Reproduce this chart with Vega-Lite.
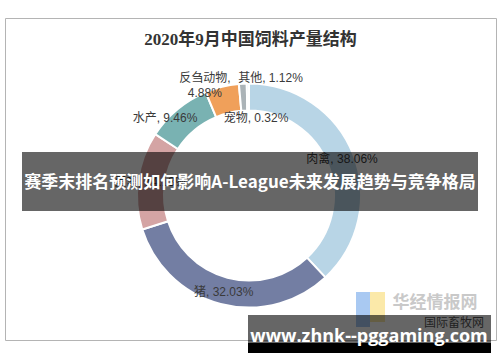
{
  "$schema": "https://vega.github.io/schema/vega-lite/v6.json",
  "width": 500,
  "height": 362,
  "autosize": {"type": "fit", "contains": "padding"},
  "padding": {"left": 5, "top": 18, "right": 4, "bottom": 22},
  "background": "white",
  "config": {"view": {"stroke": "#b4b4b4", "strokeWidth": 1}},
  "datasets": {
    "feed": [
      {"cat": "肉禽", "pct": 38.06},
      {"cat": "猪", "pct": 32.03},
      {"cat": "蛋禽", "pct": 14.13},
      {"cat": "水产", "pct": 9.46},
      {"cat": "反刍动物", "pct": 4.88},
      {"cat": "其他", "pct": 1.12},
      {"cat": "宠物", "pct": 0.32}
    ]
  },
  "layer": [
    {
      "data": {"name": "feed"},
      "transform": [
        {"stack": "pct", "groupby": [], "sort": [{"field": "pct", "order": "descending"}], "as": ["t0", "t1"]},
        {"calculate": "(datum.t0 + datum.t1) / 2", "as": "mid"},
        {"calculate": "datum.cat + ', ' + format(datum.pct, '.2f') + '%'", "as": "label"}
      ],
      "layer": [
        {
          "mark": {"type": "arc", "radius": 112, "radius2": 85, "stroke": "white", "strokeWidth": 2, "xOffset": -1.5, "yOffset": 16.5},
          "encoding": {
            "theta": {"field": "t0", "type": "quantitative", "scale": {"domain": [0, 100]}},
            "theta2": {"field": "t1"},
            "color": {
              "field": "cat", "type": "nominal", "legend": null,
              "scale": {
                "domain": ["肉禽", "猪", "蛋禽", "水产", "反刍动物", "其他", "宠物"],
                "range": ["#b8d5e6", "#737ea3", "#d4a4a4", "#79b2b2", "#f0a05a", "#abb3b7", "#d3e4ef"]
              }
            }
          }
        },
        {
          "transform": [{"filter": "datum.cat == '肉禽' || datum.cat == '猪' || datum.cat == '蛋禽'"}],
          "mark": {"type": "text", "radius": 100, "xOffset": -1.5, "yOffset": 16.5, "font": "Liberation Sans, Noto Sans CJK SC", "fontSize": 12, "fill": "#3a3a3a"},
          "encoding": {
            "theta": {"field": "mid", "type": "quantitative", "stack": null, "scale": {"domain": [0, 100]}},
            "text": {"field": "label"}
          }
        },
        {
          "transform": [{"filter": "datum.cat == '水产'"}],
          "mark": {"type": "text", "radius": 100, "xOffset": -1.5, "yOffset": 16.5, "dx": -20, "dy": -1, "font": "Liberation Sans, Noto Sans CJK SC", "fontSize": 12, "fill": "#3a3a3a"},
          "encoding": {
            "theta": {"field": "mid", "type": "quantitative", "stack": null, "scale": {"domain": [0, 100]}},
            "text": {"field": "label"}
          }
        },
        {
          "transform": [{"filter": "datum.cat == '反刍动物'"}],
          "mark": {"type": "text", "radius": 100, "xOffset": -1.5, "yOffset": 16.5, "dx": -20, "dy": -20, "lineBreak": " ", "lineHeight": 15, "font": "Liberation Sans, Noto Sans CJK SC", "fontSize": 12, "fill": "#3a3a3a"},
          "encoding": {
            "theta": {"field": "mid", "type": "quantitative", "stack": null, "scale": {"domain": [0, 100]}},
            "text": {"field": "label"}
          }
        },
        {
          "transform": [{"filter": "datum.cat == '其他'"}],
          "mark": {"type": "text", "radius": 100, "xOffset": -1.5, "yOffset": 16.5, "dx": 27, "dy": -18, "font": "Liberation Sans, Noto Sans CJK SC", "fontSize": 12, "fill": "#3a3a3a"},
          "encoding": {
            "theta": {"field": "mid", "type": "quantitative", "stack": null, "scale": {"domain": [0, 100]}},
            "text": {"field": "label"}
          }
        },
        {
          "transform": [{"filter": "datum.cat == '宠物'"}],
          "mark": {"type": "text", "radius": 100, "xOffset": -1.5, "yOffset": 16.5, "dx": 8, "dy": 22, "font": "Liberation Sans, Noto Sans CJK SC", "fontSize": 12, "fill": "#3a3a3a"},
          "encoding": {
            "theta": {"field": "mid", "type": "quantitative", "stack": null, "scale": {"domain": [0, 100]}},
            "text": {"field": "label"}
          }
        }
      ]
    },
    {
      "data": {"values": [{}]},
      "mark": {"type": "text", "font": "Liberation Serif, Noto Sans CJK SC", "fontWeight": "bold", "fontSize": 17, "fill": "#333333"},
      "encoding": {"x": {"value": 245.5}, "y": {"value": 22}, "text": {"value": "2020年9月中国饲料产量结构"}}
    },
    {
      "data": {"values": [{}]},
      "mark": {"type": "rect", "fill": "#a9c9f2"},
      "encoding": {"x": {"value": 351}, "x2": {"value": 365}, "y": {"value": 274}, "y2": {"value": 309}}
    },
    {
      "data": {"values": [{}]},
      "mark": {"type": "rect", "fill": "#fbe9a9"},
      "encoding": {"x": {"value": 365}, "x2": {"value": 380}, "y": {"value": 274}, "y2": {"value": 304}}
    },
    {
      "data": {"values": [{}]},
      "mark": {"type": "text", "font": "Noto Sans CJK SC", "fontWeight": "bold", "fontSize": 17, "fill": "#c9c9c9"},
      "encoding": {"x": {"value": 430}, "y": {"value": 285}, "text": {"value": "华经情报网"}}
    },
    {
      "data": {"values": [{}]},
      "mark": {"type": "text", "font": "Noto Sans CJK SC", "fontSize": 12, "fill": "#555555"},
      "encoding": {"x": {"value": 449}, "y": {"value": 305}, "text": {"value": "国际畜牧网"}}
    },
    {
      "data": {"values": [{}]},
      "mark": {"type": "rect", "fill": "black", "opacity": 0.6},
      "encoding": {"x": {"value": 17}, "x2": {"value": 473}, "y": {"value": 134}, "y2": {"value": 193}}
    },
    {
      "data": {"values": [{}]},
      "mark": {"type": "text", "font": "Noto Sans CJK SC", "fontWeight": "bold", "fontSize": 17, "fill": "white"},
      "encoding": {"x": {"value": 245}, "y": {"value": 165}, "text": {"value": "赛季末排名预测如何影响A-League未来发展趋势与竞争格局"}}
    },
    {
      "data": {"values": [{}]},
      "mark": {"type": "rect", "fill": "black", "opacity": 0.6},
      "encoding": {"x": {"value": 243}, "x2": {"value": 486}, "y": {"value": 297}, "y2": {"value": 325}}
    },
    {
      "data": {"values": [{}]},
      "mark": {"type": "rect", "fill": "black"},
      "encoding": {"x": {"value": 243}, "x2": {"value": 486}, "y": {"value": 325}, "y2": {"value": 335}}
    },
    {
      "data": {"values": [{}]},
      "mark": {"type": "text", "font": "Open Sans", "fontWeight": "bold", "fontSize": 18, "fill": "white"},
      "encoding": {"x": {"value": 364}, "y": {"value": 319}, "text": {"value": "www.zhnk--pggaming.com"}}
    }
  ]
}
